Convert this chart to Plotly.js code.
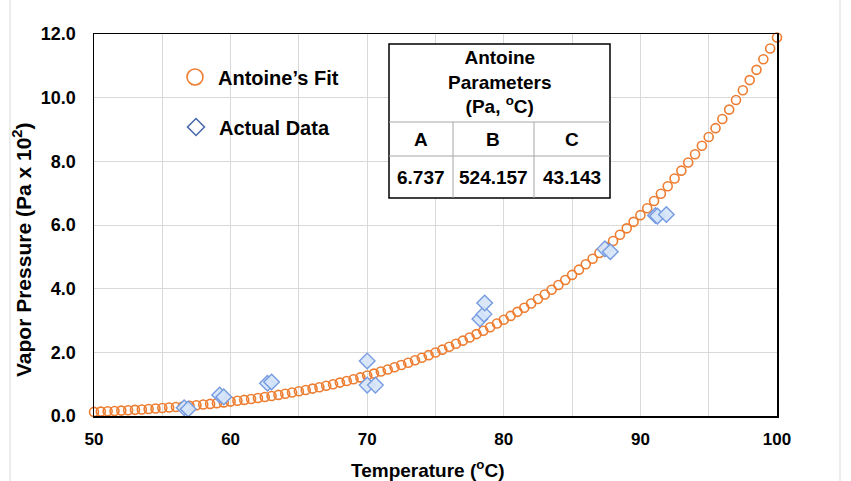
<!DOCTYPE html>
<html><head><meta charset="utf-8">
<script src="https://cdn.plot.ly/plotly-3.0.1.min.js"></script>
<style>html,body{margin:0;padding:0;background:#fff}#chart{width:851px;height:481px}</style>
</head><body><div id="chart"></div>
<script>
// ---- data ----
const fitTemps = [50,50.5,51,51.5,52,52.5,53,53.5,54,54.5,55,55.5,56,56.5,57,57.5,58,58.5,59,59.5,
  60,60.5,61,61.5,62,62.5,63,63.5,64,64.5,65,65.5,66,66.5,67,67.5,68,68.5,69,69.5,
  70,70.5,71,71.5,72,72.5,73,73.5,74,74.5,75,75.5,76,76.5,77,77.5,78,78.5,79,79.5,
  80,80.5,81,81.5,82,82.5,83,83.5,84,84.5,85,85.5,86,86.5,87,87.5,88,88.5,89,89.5,
  90,90.5,91,91.5,92,92.5,93,93.5,94,94.5,95,95.5,96,96.5,97,97.5,98,98.5,99,99.5,100];
const fitPressure = [0.129,0.138,0.148,0.158,0.169,0.181,0.193,0.206,0.219,0.234,0.249,0.265,0.282,0.300,0.318,0.338,0.359,0.380,0.403,0.427,
  0.452,0.478,0.506,0.534,0.565,0.596,0.629,0.663,0.700,0.737,0.776,0.817,0.860,0.904,0.951,0.999,1.049,1.101,1.156,1.212,
  1.272,1.332,1.396,1.461,1.530,1.601,1.675,1.751,1.830,1.912,1.997,2.084,2.176,2.269,2.367,2.468,2.572,2.679,2.790,2.905,
  3.024,3.145,3.272,3.401,3.536,3.674,3.817,3.964,4.116,4.271,4.432,4.597,4.767,4.942,5.122,5.306,5.497,5.692,5.894,6.099,
  6.310,6.528,6.754,6.982,7.219,7.459,7.708,7.961,8.223,8.489,8.764,9.043,9.332,9.625,9.928,10.235,10.552,10.874,11.206,11.543,11.891];
const dataTemps = [56.6,56.9,59.2,59.5,62.7,63.0,70.0,70.0,70.6,78.25,78.55,78.6,87.4,87.8,91.1,91.25,91.9];
const dataPressure = [0.26,0.22,0.66,0.60,1.03,1.07,1.73,0.97,0.97,3.05,3.2,3.55,5.25,5.16,6.30,6.28,6.33];
const seriesNames = ["Antoine\u2019s Fit", "Actual Data"];
const tableTitle = "Antoine<br>Parameters<br>(Pa, <sup>o</sup>C)";
const paramNames = ["A", "B", "C"];
const paramValues = ["6.737", "524.157", "43.143"];
const xTitle = "Temperature (<sup>o</sup>C)";
const yTitle = "Vapor Pressure (Pa x 10<sup>2</sup>)";

// ---- layout helpers ----
const W = 851, H = 481, M = {l: 94, r: 74, t: 34, b: 65};
const pw = W - M.l - M.r, ph = H - M.t - M.b;
const px = v => (v - M.l) / pw;
const py = v => (H - M.b - v) / ph;
const FONT = "Liberation Sans, Arial, sans-serif";
const bold = (size) => ({family: FONT, size: size, color: "#000", weight: "bold"});

const tbl = {left: 389, right: 610, top: 44, head: 122, row: 156, bottom: 198, cols: [389, 453, 534, 610]};
const shapes = [
  {type: "rect", xref: "paper", yref: "paper", x0: px(tbl.left), x1: px(tbl.right), y0: py(tbl.bottom), y1: py(tbl.top),
   fillcolor: "#fff", line: {color: "#000", width: 1.5}, layer: "above"},
  {type: "line", xref: "paper", yref: "paper", x0: px(tbl.left), x1: px(tbl.right), y0: py(tbl.head), y1: py(tbl.head), line: {color: "#a6a6a6", width: 1}, layer: "above"},
  {type: "line", xref: "paper", yref: "paper", x0: px(tbl.left), x1: px(tbl.right), y0: py(tbl.row), y1: py(tbl.row), line: {color: "#a6a6a6", width: 1}, layer: "above"},
  {type: "line", xref: "paper", yref: "paper", x0: px(tbl.cols[1]), x1: px(tbl.cols[1]), y0: py(tbl.bottom), y1: py(tbl.head), line: {color: "#a6a6a6", width: 1}, layer: "above"},
  {type: "line", xref: "paper", yref: "paper", x0: px(tbl.cols[2]), x1: px(tbl.cols[2]), y0: py(tbl.bottom), y1: py(tbl.head), line: {color: "#a6a6a6", width: 1}, layer: "above"},
  {type: "line", xref: "paper", yref: "paper", x0: px(10), x1: px(10), y0: py(H), y1: py(0), line: {color: "#d9d9d9", width: 1}},
  {type: "line", xref: "paper", yref: "paper", x0: px(840), x1: px(840), y0: py(H), y1: py(0), line: {color: "#d9d9d9", width: 1}}
];
const annotations = [
  {xref: "paper", yref: "paper", x: px((tbl.left + tbl.right) / 2), y: py((tbl.top + tbl.head) / 2 - 1), text: tableTitle,
   showarrow: false, font: bold(19), xanchor: "center", yanchor: "middle", align: "center"},
  {xref: "paper", yref: "paper", x: px(427), y: py(469), text: xTitle, showarrow: false, font: bold(19),
   xanchor: "center", yanchor: "middle"},
  {xref: "paper", yref: "paper", x: px(22), y: py(250), text: yTitle, showarrow: false, font: bold(21),
   textangle: -90, xanchor: "center", yanchor: "middle"}
];
for (let i = 0; i < 3; i++) {
  const cx = px((tbl.cols[i] + tbl.cols[i + 1]) / 2);
  annotations.push({xref: "paper", yref: "paper", x: cx, y: py((tbl.head + tbl.row) / 2), text: paramNames[i], showarrow: false, font: bold(19), xanchor: "center", yanchor: "middle"});
  annotations.push({xref: "paper", yref: "paper", x: cx, y: py((tbl.row + tbl.bottom) / 2), text: paramValues[i], showarrow: false, font: bold(19), xanchor: "center", yanchor: "middle"});
}

const traces = [
  {x: fitTemps, y: fitPressure, type: "scatter", mode: "markers", name: seriesNames[0], showlegend: false, cliponaxis: false,
   marker: {symbol: "circle-open", size: 9, color: "#ed7d31", line: {width: 1.6}}},
  {x: dataTemps, y: dataPressure, type: "scatter", mode: "markers", name: seriesNames[1], showlegend: false, cliponaxis: false,
   marker: {symbol: "diamond", size: 12, color: "rgba(214,229,248,0.92)", line: {color: "#759be0", width: 1.4}}},
  {x: [null], y: [null], type: "scatter", mode: "markers", name: seriesNames[0], legend: "legend",
   marker: {symbol: "circle-open", size: 16, color: "#ed7d31", line: {width: 1.6}}},
  {x: [null], y: [null], type: "scatter", mode: "markers", name: seriesNames[1], legend: "legend2",
   marker: {symbol: "diamond-open", size: 13, color: "#4a6aab", line: {width: 1.6}}}
];

const legendBase = {xanchor: "left", yanchor: "middle", bgcolor: "rgba(0,0,0,0)", borderwidth: 0, font: bold(20), itemsizing: "trace", itemwidth: 36};
const layout = {
  width: W, height: H, margin: M, paper_bgcolor: "#fff", plot_bgcolor: "#fff",
  font: {family: FONT, color: "#000"},
  showlegend: true,
  legend: Object.assign({}, legendBase, {x: px(172), y: py(77)}),
  legend2: Object.assign({}, legendBase, {x: px(173), y: py(127)}),
  xaxis: {range: [50, 100], tick0: 50, dtick: 10, showgrid: true, gridcolor: "#d9d9d9", gridwidth: 1,
    minor: {dtick: 5, showgrid: true, gridcolor: "#d9d9d9", gridwidth: 1},
    showline: true, mirror: true, linecolor: "#000", linewidth: 1.5, zeroline: false, ticks: "",
    tickfont: bold(17), ticklabelstandoff: 7, automargin: false},
  yaxis: {range: [0, 12], tick0: 0, dtick: 2, tickformat: ".1f", showgrid: true, gridcolor: "#d9d9d9", gridwidth: 1,
    showline: true, mirror: true, linecolor: "#000", linewidth: 1.5, zeroline: false, ticks: "",
    tickfont: bold(18), ticklabelstandoff: 13, automargin: false},
  shapes: shapes, annotations: annotations
};
Plotly.newPlot("chart", traces, layout, {displayModeBar: false, staticPlot: true});
</script>
</body></html>
